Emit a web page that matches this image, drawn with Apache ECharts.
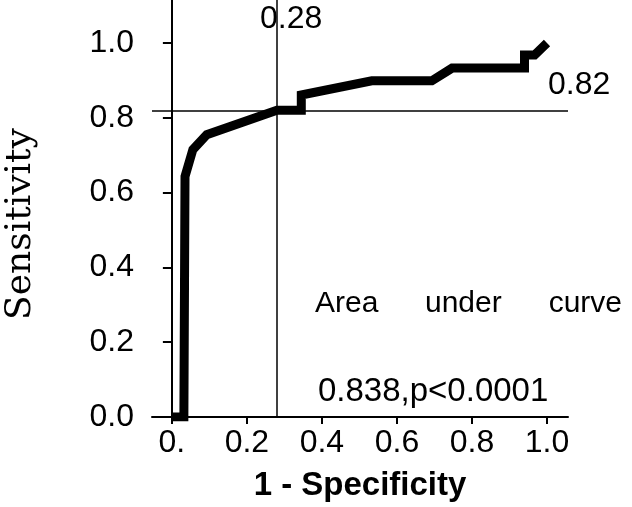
<!DOCTYPE html>
<html>
<head>
<meta charset="utf-8">
<script src="https://cdn.jsdelivr.net/npm/echarts@6/dist/echarts.min.js"></script>
<style>
  html, body { margin: 0; padding: 0; background: #fff; }
  #chart { width: 632px; height: 507px; }
</style>
</head>
<body>
<div id="chart"></div>
<script>
// ROC curve points
const fprValues = [0, 0.032, 0.035, 0.056, 0.093, 0.28, 0.345, 0.345, 0.533, 0.693, 0.747, 0.94, 0.94, 0.967, 1.0]
const tprValues = [0, 0, 0.643, 0.715, 0.755, 0.82, 0.82, 0.861, 0.899, 0.899, 0.933, 0.933, 0.968, 0.968, 1.0]

// cut-off point
const cutoffX = 0.28
const cutoffY = 0.82

const xTicks = [0, 0.2, 0.4, 0.6, 0.8, 1.0]
const yTicks = [0, 0.2, 0.4, 0.6, 0.8, 1.0]

const sans = "'Liberation Sans', Arial, sans-serif"

const chart = echarts.init(document.getElementById('chart'))

chart.setOption({
  animation: false,
  backgroundColor: '#fff',
  grid: { left: 152, top: 0, right: 64, bottom: 89 },
  xAxis: {
    type: 'value',
    min: -0.053,
    max: 1.056,
    name: '1 - Specificity',
    nameLocation: 'middle',
    nameGap: 52,
    nameTextStyle: { fontFamily: sans, fontSize: 33, fontWeight: 'bold', color: '#000' },
    splitLine: { show: false },
    axisLine: { lineStyle: { color: '#000', width: 2 } },
    axisTick: { customValues: xTicks, length: 7, lineStyle: { color: '#000', width: 2 } },
    axisLabel: {
      customValues: xTicks,
      margin: 10,
      fontFamily: sans,
      fontSize: 32,
      color: '#000',
      formatter: v => v === 0 ? '0.' : v.toFixed(1)
    }
  },
  yAxis: {
    type: 'value',
    min: 0,
    max: 1.115,
    splitLine: { show: false },
    axisLine: { show: true, lineStyle: { color: '#000', width: 2 } },
    axisTick: { show: true, customValues: yTicks, length: 9, lineStyle: { color: '#000', width: 2 } },
    axisLabel: {
      customValues: yTicks,
      margin: 18,
      fontFamily: sans,
      fontSize: 32,
      color: '#000',
      formatter: v => v.toFixed(1)
    }
  },
  series: [{
    type: 'line',
    data: fprValues.map((x, i) => [x, tprValues[i]]),
    showSymbol: false,
    lineStyle: { color: '#000', width: 9, cap: 'butt', join: 'miter' },
    z: 3,
    markLine: {
      silent: true,
      symbol: 'none',
      label: { show: false },
      lineStyle: { color: '#000', width: 1.5, type: 'solid' },
      z: 2,
      data: [{ xAxis: cutoffX }, { yAxis: cutoffY }]
    }
  }],
  graphic: [
    {
      type: 'text', x: 21, y: 224, rotation: Math.PI / 2,
      style: { text: 'Sensitivity', font: "36px 'DejaVu Serif', serif", fill: '#000', align: 'center', verticalAlign: 'middle' }
    },
    { type: 'text', x: 260, y: 3, style: { text: '0.28', font: '32px ' + sans, fill: '#000' } },
    { type: 'text', x: 548, y: 69, style: { text: '0.82', font: '32px ' + sans, fill: '#000' } },
    { type: 'text', x: 315, y: 289, style: { text: 'Area', font: '30px ' + sans, fill: '#000' } },
    { type: 'text', x: 425, y: 289, style: { text: 'under', font: '30px ' + sans, fill: '#000' } },
    { type: 'text', x: 622, y: 289, style: { text: 'curve', font: '30px ' + sans, fill: '#000', align: 'right' } },
    { type: 'text', x: 318, y: 375, style: { text: '0.838,p<0.0001', font: '33px ' + sans, fill: '#000' } }
  ]
})
</script>
</body>
</html>
